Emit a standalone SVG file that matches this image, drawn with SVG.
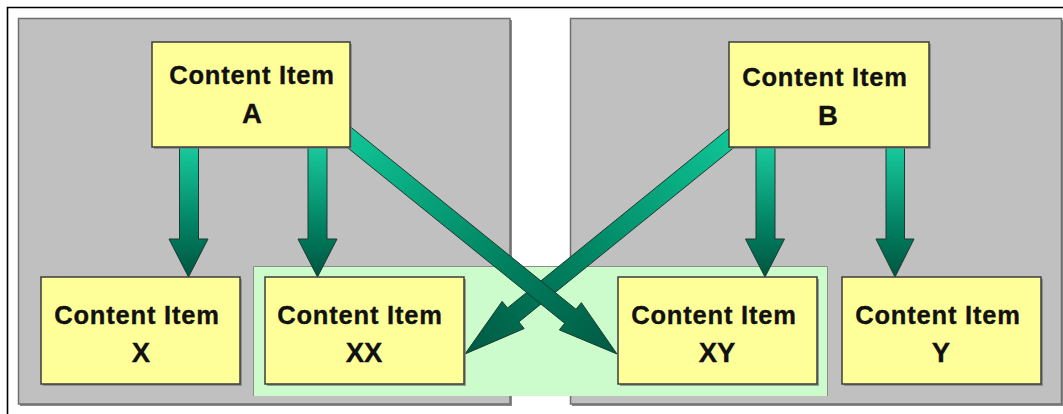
<svg xmlns="http://www.w3.org/2000/svg" width="1063" height="414" viewBox="0 0 1063 414">
<style>
.frame{stroke:#000;stroke-width:1.6;fill:none}
.panel{fill:#c0c0c0;stroke:#6e6e6e;stroke-width:1.5}
.pshadow{fill:#8a8a8a}
.zone{fill:#ccfccc}
.zedge{fill:none;stroke:#8c8c8c;stroke-width:1}
.box{fill:#ffff99;stroke:#3c3c3c;stroke-width:1.5}
.bshadow{fill:#7c7c7c;opacity:0.7}
.arrow{stroke:#1b3a30;stroke-width:1;stroke-linejoin:miter}
.t{font-family:"Liberation Sans",Arial,Helvetica,sans-serif;font-weight:bold;font-size:25.5px;letter-spacing:0.8px;fill:#111;stroke:#111;stroke-width:0.35;text-anchor:middle}
.t2{font-family:"Liberation Sans",Arial,Helvetica,sans-serif;font-weight:bold;font-size:27.5px;fill:#111;stroke:#111;stroke-width:0.35;text-anchor:middle}
</style>
<defs>
<linearGradient id="gv" gradientUnits="userSpaceOnUse" x1="0" y1="147" x2="0" y2="277">
<stop offset="0" stop-color="#18c99c"/>
<stop offset="0.65" stop-color="#007c5e"/>
<stop offset="1" stop-color="#00553f"/>
</linearGradient>
<linearGradient id="gd1" gradientUnits="userSpaceOnUse" x1="340" y1="130" x2="617" y2="354">
<stop offset="0" stop-color="#10c898"/>
<stop offset="0.6" stop-color="#00805f"/>
<stop offset="1" stop-color="#005a43"/>
</linearGradient>
<linearGradient id="gd2" gradientUnits="userSpaceOnUse" x1="740" y1="131" x2="465" y2="354">
<stop offset="0" stop-color="#10c898"/>
<stop offset="0.6" stop-color="#00805f"/>
<stop offset="1" stop-color="#005a43"/>
</linearGradient>
</defs>

<rect width="1063" height="414" fill="#ffffff"/>
<path class="frame" d="M7.5,414 V7.5 H1063"/>

<g id="panel-left">
<rect class="pshadow" x="20" y="20" width="492" height="386"/>
<rect class="panel" x="18.5" y="18.5" width="491.5" height="385.5"/>
</g>
<g id="panel-right">
<rect class="pshadow" x="572" y="20" width="492" height="386"/>
<rect class="panel" x="570.5" y="18.5" width="491" height="385.5"/>
</g>
<g id="shared-zone">
<rect class="zone" x="253" y="266" width="575" height="130"/>
<path class="zedge" d="M253.5,396 V266.5 H827.5 V396"/>
</g>

<g id="connectors">
<path class="arrow" fill="url(#gv)" d="M179.5,146 H198.5 V239 H208 L188.5,277 L169,239 H179.5 Z"/>
<path class="arrow" fill="url(#gv)" d="M308,146 H327 V239 H337 L317.5,277 L298,239 H308 Z"/>
<path class="arrow" fill="url(#gv)" d="M756,146 H775 V239 H784.5 L765,277 L745.5,239 H756 Z"/>
<path class="arrow" fill="url(#gv)" d="M886,146 H904.5 V239 H914 L895,277 L876,239 H886 Z"/>
<path class="arrow" fill="url(#gd2)" d="M734.33,124.01 L507.49,307.96 L502.14,301.36 L465,354 L524.18,328.54 L518.83,321.94 L745.67,137.99 Z"/>
<path class="arrow" fill="url(#gd1)" d="M345.66,123 L576,309.27 L581.35,302.66 L617,354 L559.33,329.88 L564.68,323.27 L334.34,137 Z"/>
</g>

<g id="node-a">
<rect class="bshadow" x="154" y="44" width="198" height="105"/>
<rect class="box" x="152" y="42" width="198" height="105"/>
<text class="t" x="252" y="84">Content Item</text>
<text class="t2" x="252" y="123">A</text>
</g>
<g id="node-b">
<rect class="bshadow" x="731" y="44" width="200" height="105"/>
<rect class="box" x="729" y="42" width="200" height="105"/>
<text class="t" x="825" y="86">Content Item</text>
<text class="t2" x="828" y="125">B</text>
</g>
<g id="node-x">
<rect class="bshadow" x="43" y="279" width="199" height="107"/>
<rect class="box" x="41" y="277" width="199" height="107"/>
<text class="t" x="137" y="324">Content Item</text>
<text class="t2" x="141" y="362">X</text>
</g>
<g id="node-xx">
<rect class="bshadow" x="267" y="279" width="199" height="107"/>
<rect class="box" x="265" y="277" width="199" height="107"/>
<text class="t" x="360" y="324">Content Item</text>
<text class="t2" x="364" y="362">XX</text>
</g>
<g id="node-xy">
<rect class="bshadow" x="620" y="279" width="199" height="107"/>
<rect class="box" x="618" y="277" width="199" height="107"/>
<text class="t" x="714" y="324">Content Item</text>
<text class="t2" x="717" y="362">XY</text>
</g>
<g id="node-y">
<rect class="bshadow" x="844" y="279" width="199" height="107"/>
<rect class="box" x="842" y="277" width="199" height="107"/>
<text class="t" x="938" y="324">Content Item</text>
<text class="t2" x="941" y="362">Y</text>
</g>
</svg>
